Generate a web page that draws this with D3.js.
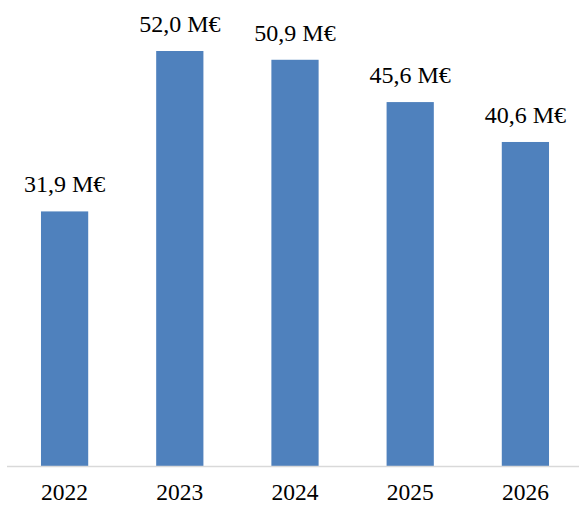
<!DOCTYPE html>
<html><head><meta charset="utf-8">
<script src="https://cdn.jsdelivr.net/npm/d3@7"></script>
<style>body{margin:0;background:#fff}svg{display:block}</style>
</head><body>
<script>
const categories = ["2022","2023","2024","2025","2026"];
const values = [31.9, 52.0, 50.9, 45.6, 40.6];
const labels = ["31,9 M€","52,0 M€","50,9 M€","45,6 M€","40,6 M€"];

const W = 579, H = 505;
const base = 466;
const svg = d3.select("body").append("svg").attr("width", W).attr("height", H);
const x = d3.scaleBand().domain(categories).range([7, 583]).paddingInner(0.59).paddingOuter(0.295);
const y = d3.scaleLinear().domain([0, 52]).range([base, 51]);
const font = "'Liberation Serif', 'Times New Roman', serif";

svg.selectAll("rect.bar").data(values).join("rect").attr("class","bar")
  .attr("x", (d,i) => x(categories[i])).attr("width", x.bandwidth())
  .attr("y", d => y(d)).attr("height", d => base - y(d)).attr("fill", "#4f81bd");

svg.append("line").attr("x1", 7).attr("x2", W).attr("y1", base + 0.5).attr("y2", base + 0.5)
  .attr("stroke", "#d9d9d9").attr("stroke-width", 1.5);

svg.selectAll("text.lbl").data(values).join("text").attr("class","lbl")
  .attr("x", (d,i) => x(categories[i]) + x.bandwidth()/2).attr("y", d => y(d) - 19)
  .attr("text-anchor","middle").attr("font-family", font).attr("font-size", 24).attr("fill","#000")
  .text((d,i) => labels[i]);

svg.selectAll("text.tick").data(categories).join("text").attr("class","tick")
  .attr("x", d => x(d) + x.bandwidth()/2).attr("y", 500)
  .attr("text-anchor","middle").attr("font-family", font).attr("font-size", 23.5).attr("fill","#000")
  .text(d => d);
</script>
</body></html>
